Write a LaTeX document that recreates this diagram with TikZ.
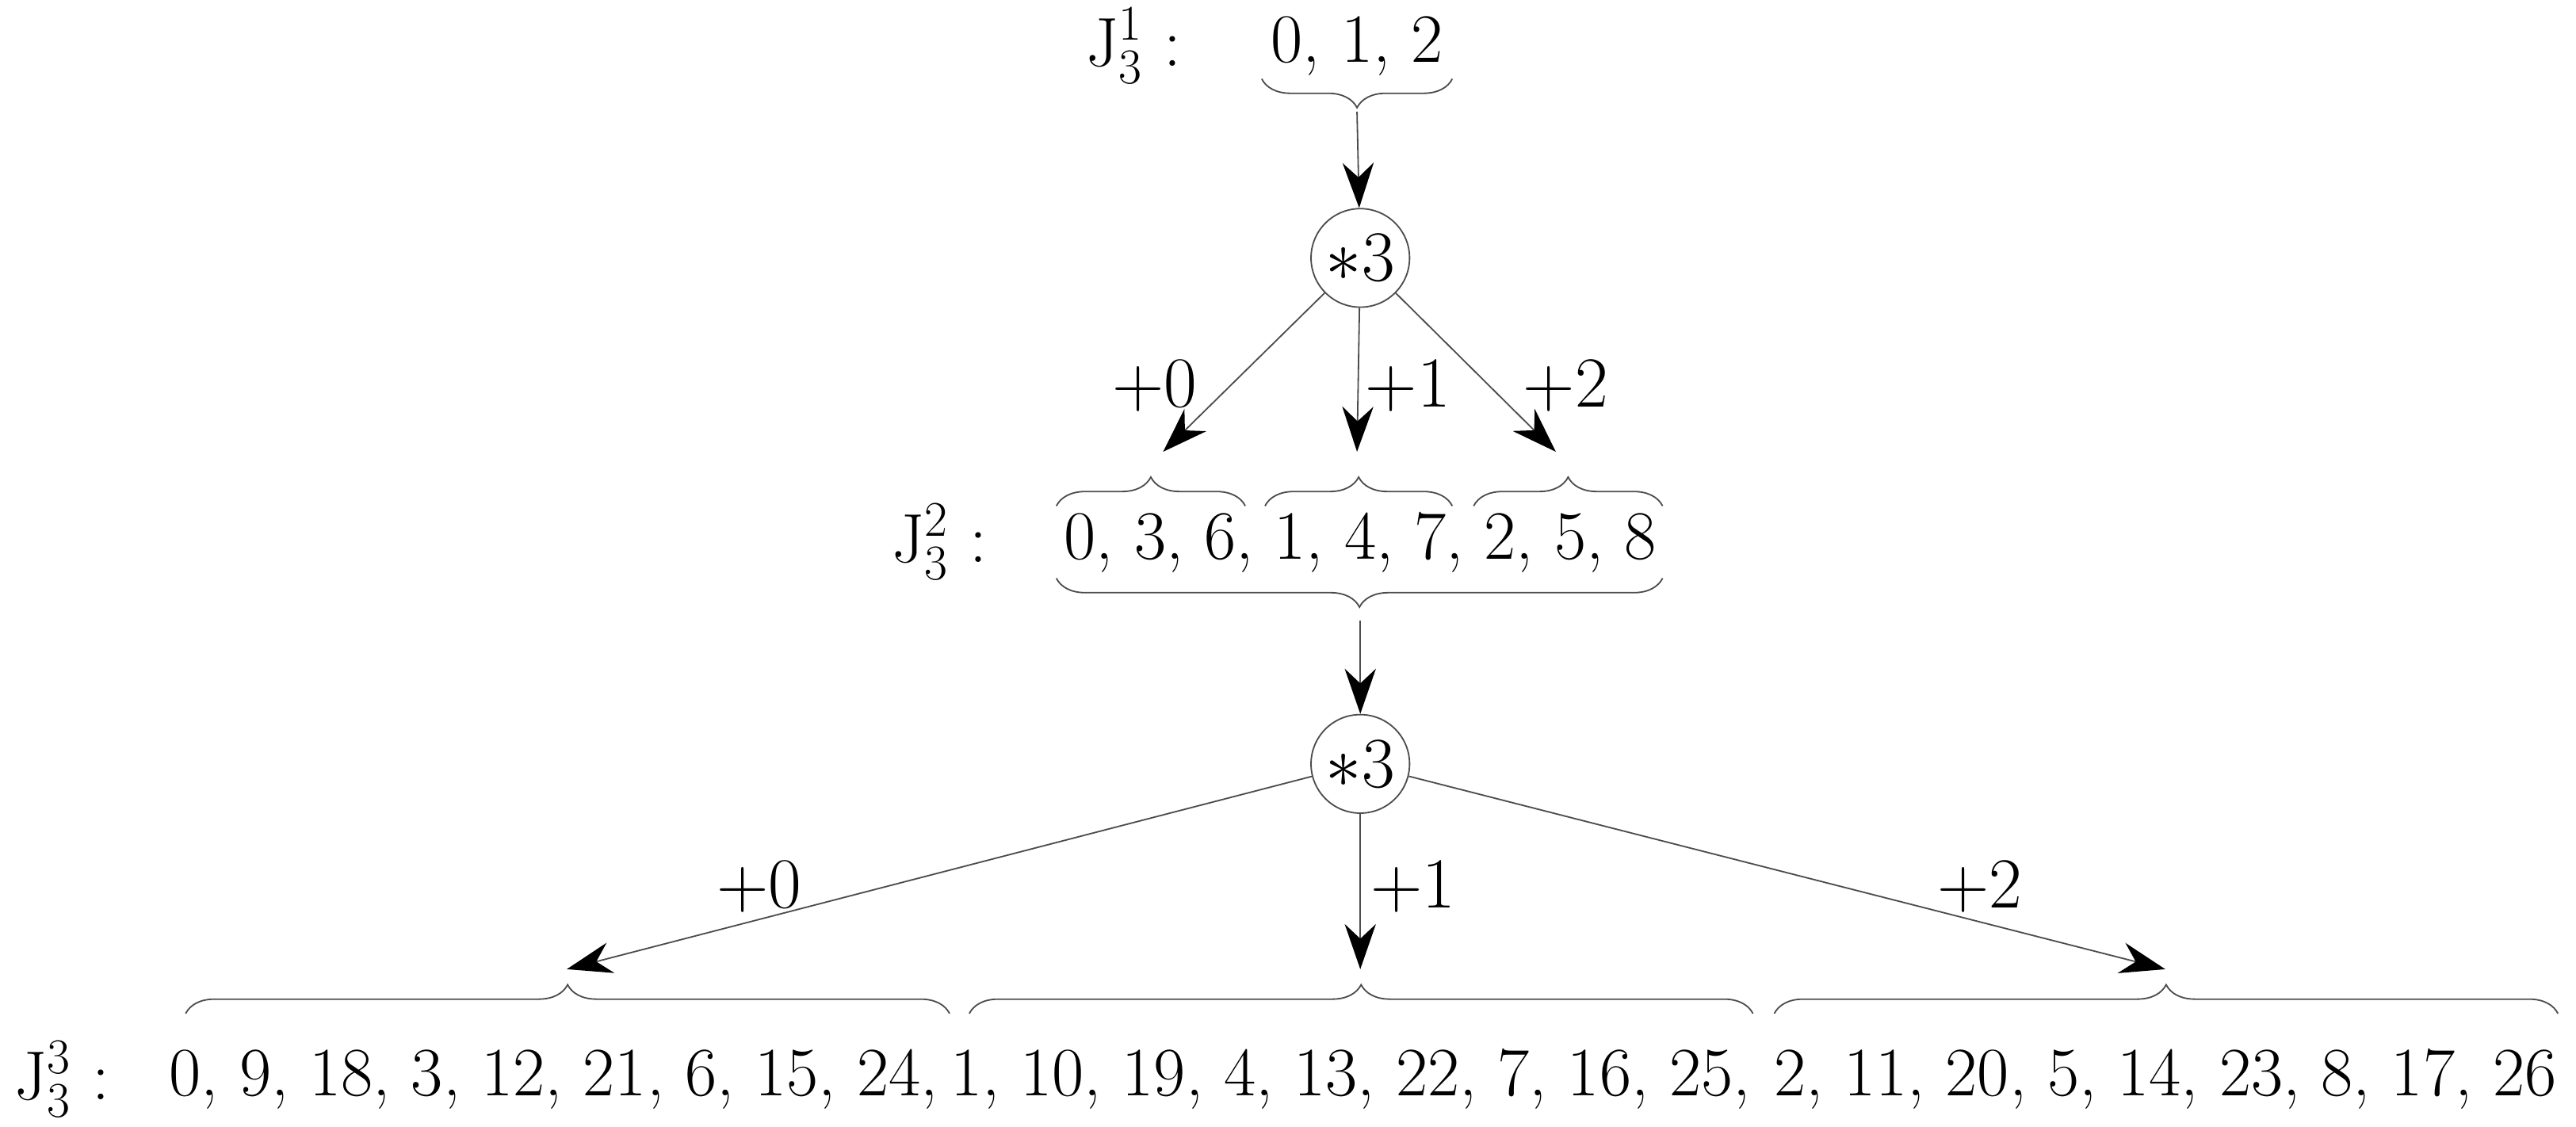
\documentclass[tikz,border=0pt]{standalone}
\usetikzlibrary{arrows.meta,decorations.pathreplacing}
\begin{document}
\begin{tikzpicture}[x=0.02cm,y=-0.02cm,
  every node/.style={font=\fontsize{24}{28}\selectfont, inner sep=0pt},
  br/.style={draw=black!70, line width=0.5pt, decorate, decoration={brace,amplitude=10pt,raise=0pt}},
  ar/.style={draw=black!70, line width=0.5pt, -{Stealth[length=0.55cm,width=0.38cm,black]}},
  circ/.style={circle, draw=black!70, line width=0.5pt, minimum size=1.2cm}]
\useasboundingbox (0,0) rectangle (1568,686);
% level 1
\node (L1) at (690,28) {J$_3^1$ :};
\node (T1) at (826,28) {0, 1, 2};
\coordinate (b1l) at (768,48); \coordinate (b1r) at (884,48);
\draw[br] (b1r) -- (b1l);
\coordinate (b1t) at (826,68);
\node[circ] (C1) at (828,157) {$*3$};
\draw[ar] (b1t) -- (C1);
\coordinate (a1) at (708,275); \coordinate (a2) at (826,275); \coordinate (a3) at (947,275);
\draw[ar] (C1) -- (a1); \draw[ar] (C1) -- (a2); \draw[ar] (C1) -- (a3);
\node (p0) at (703,235) {$+0$};
\node (p1) at (857,235) {$+1$};
\node (p2) at (953,235) {$+2$};
% level 2
\draw[br] (643,308) -- (758,308);
\draw[br] (770,308) -- (884,308);
\draw[br] (897,308) -- (1012,308);
\node (L2) at (572,330) {J$_3^2$ :};
\node (T2) at (828,330) {0, 3, 6, 1, 4, 7, 2, 5, 8};
\draw[br] (1012,352) -- (643,352);
\coordinate (b2t) at (828,378);
\node[circ] (C2) at (828,465) {$*3$};
\draw[ar] (b2t) -- (C2);
\coordinate (c1) at (345,590); \coordinate (c2) at (828,590); \coordinate (c3) at (1318,590);
\draw[ar] (C2) -- (c1); \draw[ar] (C2) -- (c2); \draw[ar] (C2) -- (c3);
\node (q0) at (462,540) {$+0$};
\node (q1) at (860,540) {$+1$};
\node (q2) at (1205,540) {$+2$};
% level 3
\draw[br] (113,617) -- (578,617);
\draw[br] (590,617) -- (1067,617);
\draw[br] (1080,617) -- (1557,617);
\node (L3) at (38,657) {J$_3^3$ :};
\node (G1) at (337,657) {0, 9, 18, 3, 12, 21, 6, 15, 24,};
\node (G2) at (822,657) {1, 10, 19, 4, 13, 22, 7, 16, 25,};
\node (G3) at (1318,657) {2, 11, 20, 5, 14, 23, 8, 17, 26};
\end{tikzpicture}
\end{document}
